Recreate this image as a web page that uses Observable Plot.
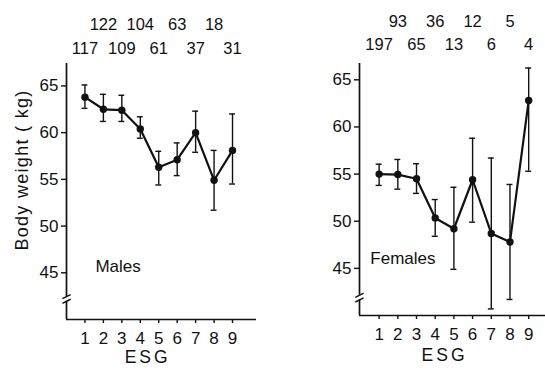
<!DOCTYPE html>
<html><head><meta charset="utf-8">
<script src="https://cdn.jsdelivr.net/npm/d3@7"></script>
<script src="https://cdn.jsdelivr.net/npm/@observablehq/plot@0.6"></script>
<style>
body{margin:0;background:#fff}
#wrap{position:relative;width:545px;height:371px;overflow:hidden;background:#fff}
#left{position:absolute;left:0;top:0}
#right{position:absolute;left:272px;top:0}
</style></head><body><div id="wrap"><div id="left"></div><div id="right"></div></div>
<script>
// ---- data ----
const esg = [1, 2, 3, 4, 5, 6, 7, 8, 9];
const malesMean = [63.8, 62.5, 62.4, 60.4, 56.3, 57.1, 60.0, 54.9, 58.1];
const malesLow  = [62.6, 61.2, 61.2, 59.4, 54.4, 55.4, 57.9, 51.7, 54.5];
const malesHigh = [65.1, 64.1, 64.0, 61.7, 58.0, 58.9, 62.3, 58.1, 62.0];
const malesN    = [117, 122, 109, 104, 61, 63, 37, 18, 31];
const femalesMean = [55.0, 54.95, 54.5, 50.35, 49.2, 54.4, 48.7, 47.8, 62.8];
const femalesLow  = [53.8, 53.4, 52.95, 48.4, 44.9, 49.9, 40.7, 41.7, 55.3];
const femalesHigh = [56.05, 56.55, 56.1, 52.3, 53.6, 58.8, 56.7, 53.9, 66.25];
const femalesN    = [197, 93, 65, 36, 13, 12, 6, 5, 4];
const yTicks = [45, 50, 55, 60, 65];
const yLabel = "Body weight ( kg)";
const xLabel = "ESG";

const FONT = '"Liberation Sans", Arial, sans-serif';

function panel(el, o) {
  const rows = esg.map((e, i) => ({esg: e, mean: o.mean[i], lo: o.low[i], hi: o.high[i], n: o.n[i]}));
  const x0 = o.xDomain[0];
  const [yb, yt] = o.yDomain;
  const ink = "#111";
  const chart = Plot.plot({
    width: o.width, height: 371,
    marginTop: o.mt, marginBottom: o.mb, marginLeft: o.ml, marginRight: o.mr,
    x: {domain: o.xDomain},
    y: {domain: o.yDomain},
    style: {fontFamily: FONT, fontSize: "16px", color: ink, background: "transparent", overflow: "visible"},
    marks: [
      // y axis line with break
      Plot.ruleX([{a: yb, b: o.breakY - 0.25}, {a: o.breakY + 0.25, b: yt}], {x: () => x0, y1: "a", y2: "b", stroke: ink, strokeWidth: 1.7}),
      Plot.link([o.breakY - 0.25, o.breakY + 0.25], {x1: () => x0 - 0.22, x2: () => x0 + 0.22, y1: d => d - 0.22, y2: d => d + 0.22, stroke: ink, strokeWidth: 1.5}),
      // x axis line
      Plot.ruleY([yb], {x1: o.xDomain[0], x2: o.xDomain[1], stroke: ink, strokeWidth: 1.7}),
      Plot.axisY({ticks: yTicks, tickSize: 5, tickPadding: 3, tickFormat: d => d, label: null, fontSize: 17, stroke: ink, strokeWidth: 1.4}),
      Plot.axisX({ticks: esg, tickSize: 4, tickPadding: 8, tickFormat: d => d, label: null, fontSize: 17, stroke: ink, strokeWidth: 1.4}),
      // error bars
      Plot.ruleX(rows, {x: "esg", y1: "lo", y2: "hi", stroke: ink, strokeWidth: 1.4}),
      Plot.ruleY(rows, {y: "lo", x1: d => d.esg - 0.16, x2: d => d.esg + 0.16, stroke: ink, strokeWidth: 1.4}),
      Plot.ruleY(rows, {y: "hi", x1: d => d.esg - 0.16, x2: d => d.esg + 0.16, stroke: ink, strokeWidth: 1.4}),
      // mean line + dots
      Plot.line(rows, {x: "esg", y: "mean", stroke: ink, strokeWidth: 2.2}),
      Plot.dot(rows, {x: "esg", y: "mean", r: 3.7, fill: ink}),
      // sample sizes
      Plot.text(rows.filter(d => d.esg % 2 === 0), {x: "esg", text: "n", frameAnchor: "top", dy: o.row1, fontSize: 16.5, fill: ink}),
      Plot.text(rows.filter(d => d.esg % 2 === 1), {x: "esg", text: "n", frameAnchor: "top", dy: o.row2, fontSize: 16.5, fill: ink}),
      // panel label
      Plot.text([o.title], {x: o.titleX, y: o.titleY, text: d => d, textAnchor: "start", fontSize: 17, fill: ink}),
      // x label
      Plot.text([xLabel], {x: o.xLabelX, frameAnchor: "bottom", dy: o.xLabelDy, text: d => d, fontSize: 17.5, fill: ink}),
      ...(o.yLabel ? [Plot.text([o.yLabel], {x: o.yLabelX, y: o.yLabelY, rotate: -90, text: d => d, fontSize: 18, fill: ink})] : [])
    ]
  });
  chart.querySelectorAll("text").forEach(t => {
    if (t.textContent === xLabel) t.setAttribute("letter-spacing", "3px");
    if (t.textContent === yLabel) t.setAttribute("letter-spacing", "1.3px");
  });
  document.getElementById(el).appendChild(chart);
}

panel("left", {
  width: 272, ml: 66, mr: 16, mt: 63, mb: 52,
  xDomain: [0, 10.3], yDomain: [40, 67.4], breakY: 42.2,
  mean: malesMean, low: malesLow, high: malesHigh, n: malesN,
  row1: -45, row2: -21,
  title: "Males", titleX: 1.57, titleY: 45.7,
  xLabelX: 4.4, xLabelDy: 43,
  yLabel: yLabel, yLabelX: -2.4, yLabelY: 56.0
});
panel("right", {
  width: 273, ml: 87, mr: 0, mt: 63, mb: 56,
  xDomain: [-0.05, 9.9], yDomain: [40, 66.73], breakY: 41.9,
  mean: femalesMean, low: femalesLow, high: femalesHigh, n: femalesN,
  row1: -48, row2: -25,
  title: "Females", titleX: 0.53, titleY: 46.0,
  xLabelX: 4.5, xLabelDy: 45
});
</script></body></html>
